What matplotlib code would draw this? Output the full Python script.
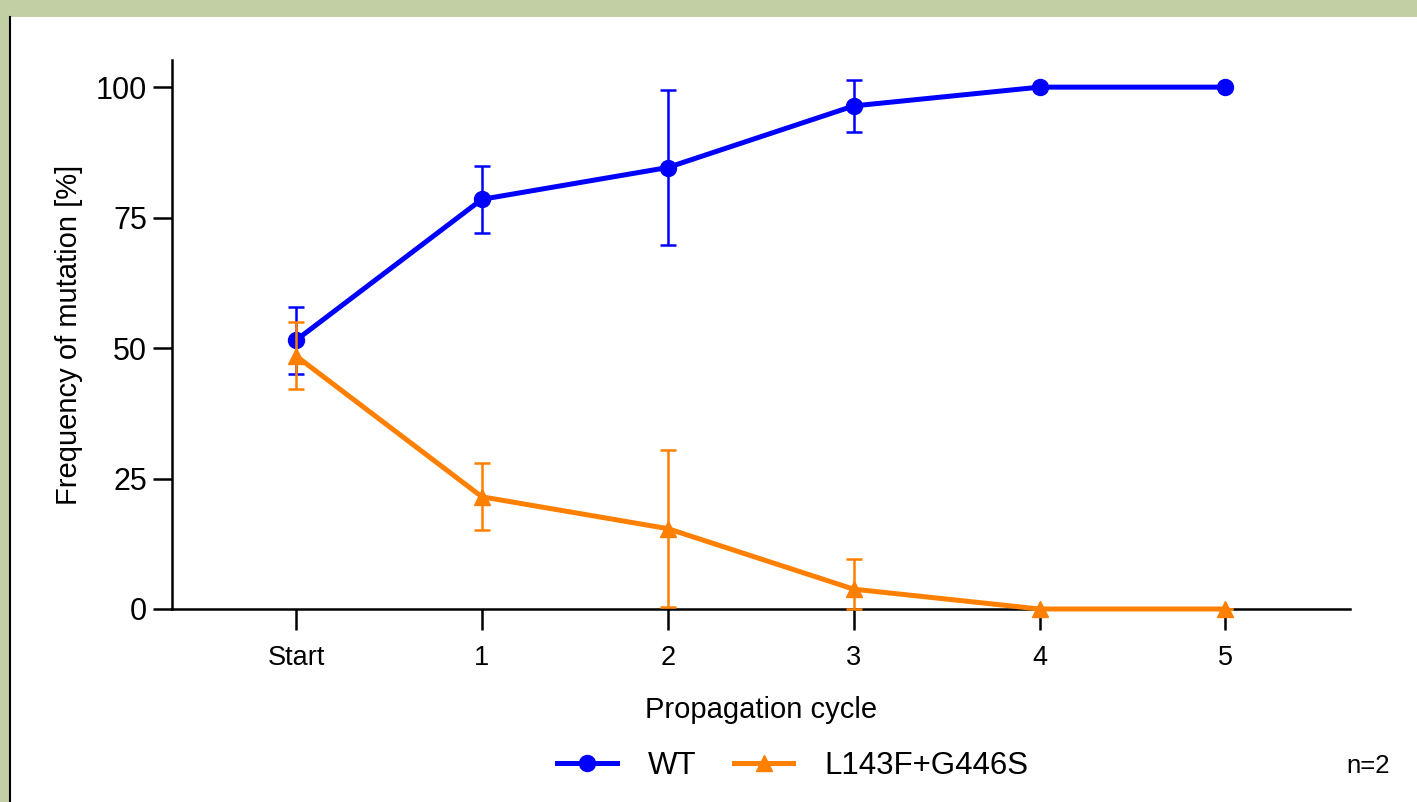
import numpy as np
import matplotlib.pyplot as plt
from matplotlib.patches import Rectangle
from matplotlib.lines import Line2D

plt.rcParams['font.family'] = ['Liberation Sans', 'DejaVu Sans']

# data
cycles = ["Start", "1", "2", "3", "4", "5"]
wt = [51.5, 78.5, 84.6, 96.4, 100.0, 100.0]
wt_err = [6.4, 6.4, 14.8, 5.0, 0.0, 0.0]
mut = [48.5, 21.5, 15.4, 3.8, 0.0, 0.0]
mut_err_lo = [6.4, 6.4, 15.0, 3.8, 0.0, 0.0]   # lower bar stops at 0
mut_err_hi = [6.4, 6.4, 15.0, 5.8, 0.0, 0.0]

blue = "#0000ff"
orange = "#ff8000"

fig = plt.figure(figsize=(14.17, 8.02), dpi=100)
fig.patch.set_facecolor("#c2cea4")
# white slide area with its left border line
fig.add_artist(Rectangle((11 / 1417, 0), 1, 1 - 17 / 802, transform=fig.transFigure,
                         facecolor="white", edgecolor="none", zorder=-10))
fig.add_artist(Line2D([10 / 1417, 10 / 1417], [0, 1 - 17 / 802], transform=fig.transFigure,
                      color="black", lw=1.5, zorder=-9))

ax = fig.add_axes([172 / 1417, 1 - 609 / 802, (1350 - 172) / 1417, (609 - 60) / 802])
ax.patch.set_alpha(0)
x = np.arange(len(cycles))

ax.errorbar(x, wt, yerr=wt_err, color=blue, lw=3.6, marker="o", ms=11.5,
            elinewidth=1.8, capsize=6, capthick=1.8, clip_on=False, zorder=3, label="WT")
ax.errorbar(x, mut, yerr=[mut_err_lo, mut_err_hi], color=orange, lw=3.6, marker="^", ms=12,
            elinewidth=1.8, capsize=6, capthick=1.8, clip_on=False, zorder=4, label="L143F+G446S")

ax.set_xlim(-0.667, 5.67)
ax.set_ylim(0, 105.2)
ax.set_yticks([0, 25, 50, 75, 100])
ax.set_xticks(x)
ax.set_xticklabels(cycles)

for s in ["top", "right"]:
    ax.spines[s].set_visible(False)
for s in ["left", "bottom"]:
    ax.spines[s].set_linewidth(1.8)

ax.tick_params(axis="y", length=14, width=1.8, pad=4, labelsize=22)
ax.tick_params(axis="x", length=15, width=1.8, pad=11, labelsize=19.5)

ax.set_xlabel("Propagation cycle", fontsize=21, labelpad=18)
ax.set_ylabel("Frequency of mutation [%]", fontsize=21, labelpad=9)

h, l = ax.get_legend_handles_labels()
h = [hh[0] for hh in h]
fig.legend(h, l, loc="center", bbox_to_anchor=(793 / 1417, 1 - 766 / 802), ncol=2,
           frameon=False, fontsize=22.5, handlelength=1.9, columnspacing=1.2, handletextpad=1.0)

fig.text(1368 / 1417, 1 - 766 / 802, "n=2", fontsize=18.5, ha="center", va="center")

fig.savefig("out.png", dpi=100, facecolor=fig.get_facecolor())
